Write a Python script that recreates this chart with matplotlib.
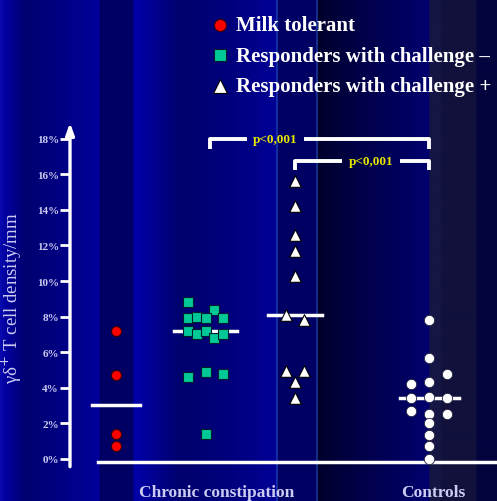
import numpy as np
import matplotlib.pyplot as plt

# percentage of gamma-delta T cells per group
milk_tolerant = [7.2, 4.7, 1.4, 0.73]
milk_dx = [0, 0, 0, 0]

challenge_neg = [8.8, 8.4, 7.9, 8.0, 7.9, 7.9, 7.2, 7.0, 7.2, 6.8, 7.0, 4.6, 4.9, 4.8, 1.4]
neg_dx = [-0.2, 0.1, -0.2, -0.1, 0.0, 0.2, -0.2, -0.1, 0.0, 0.1, 0.2, -0.2, 0.0, 0.2, 0.0]

challenge_pos = [15.6, 14.2, 12.6, 11.7, 10.3, 8.1, 7.8, 4.95, 4.95, 4.3, 3.45]
pos_dx = [0, 0, 0, 0, 0, -0.1, 0.1, -0.1, 0.1, 0, 0]

controls = [7.8, 5.7, 4.8, 4.2, 4.3, 3.4, 3.5, 3.4, 2.7, 2.5, 2.55, 2.0, 1.35, 0.7, 0.0]
ctrl_dx = [0, 0, 0.2, -0.2, 0, -0.2, 0, 0.2, -0.2, 0, 0.2, 0, 0, 0, 0]

group_x = [0, 1, 2, 3.5]
yticks = [0, 2, 4, 6, 8, 10, 12, 14, 16, 18]
group_labels = ["Chronic constipation", "Controls"]
p_text = "p<0,001"

W, H = 497, 502
fig = plt.figure(figsize=(W / 100, H / 100), dpi=100)

# striped blue slide background
stops = [(0, (10, 10, 175)), (6, (0, 0, 160)), (25, (0, 0, 112)), (60, (0, 0, 130)),
         (99, (0, 0, 155)), (100, (0, 0, 100)), (133, (0, 0, 100)), (134, (0, 0, 170)),
         (150, (0, 0, 150)), (180, (0, 0, 110)), (230, (0, 0, 125)), (276, (0, 0, 150)),
         (277, (40, 90, 200)), (278, (0, 0, 100)), (316, (0, 0, 100)), (317, (40, 90, 200)),
         (318, (0, 0, 45)), (360, (0, 0, 72)), (429, (0, 0, 110)), (430, (22, 22, 68)),
         (441, (22, 22, 68)), (442, (17, 17, 60)), (476, (17, 17, 60)), (477, (3, 3, 62)),
         (497, (3, 3, 62))]
sx = np.array([s[0] for s in stops], float)
sc = np.array([s[1] for s in stops], float) / 255
px = np.arange(W) + 0.5
bg = np.stack([np.interp(px, sx, sc[:, k]) for k in range(3)], axis=-1)[None, :, :]
bax = fig.add_axes([0, 0, 1, 1])
bax.imshow(bg, aspect='auto', extent=[0, 1, 0, 1], interpolation='bilinear')
bax.set_axis_off()

ax = fig.add_axes([70 / W, (H - 467) / H, 427 / W, 345 / H])
ax.set_facecolor('none')
ax.set_xlim(-0.514, 4.257)
ax.set_ylim(-0.4, 19.0)
for s in ax.spines.values():
    s.set_visible(False)

lav = (0.80, 0.80, 0.95)
serif = 'Liberation Serif'

ax.set_yticks(yticks)
ax.set_yticklabels([f"{t}%" for t in yticks], fontsize=8, fontweight='bold',
                   family=serif, color=lav)
ax.tick_params(axis='y', direction='out', length=7, width=2, color='white', pad=1)
ax.set_xticks([1.12, 3.55])
ax.set_xticklabels(group_labels, fontsize=12.5, fontweight='bold', family=serif, color=lav)
ax.tick_params(axis='x', length=0, pad=13)
ax.set_ylabel("γδ$^{+}$ T cell density/mm", fontsize=13.5, family=serif, color=lav)
ax.yaxis.set_label_coords(-0.108, 0.49)

# y axis with arrowhead
ax.annotate('', xy=(0, 0.995), xytext=(0, -0.002), xycoords='axes fraction',
            arrowprops=dict(arrowstyle='-|>,head_length=0.7,head_width=0.25',
                            color='white', lw=2.4, shrinkA=0, shrinkB=0))
# baseline
ax.plot([-0.2, 4.4], [-0.15, -0.15], color='white', lw=2.5, clip_on=False)

h1 = ax.scatter(np.add(group_x[0], milk_dx), milk_tolerant, s=52, marker='o',
                c='#ff0000', edgecolors='#400000', linewidths=0.8, zorder=4,
                label="Milk tolerant")
h2 = ax.scatter(np.add(group_x[1], neg_dx), challenge_neg, s=55, marker='s',
                c='#00c896', edgecolors='#002030', linewidths=0.8, zorder=4,
                label="Responders with challenge –")
h3 = ax.scatter(np.add(group_x[2], pos_dx), challenge_pos, s=70, marker='^',
                c='white', edgecolors='black', linewidths=0.8, zorder=4,
                label="Responders with challenge +")
ax.scatter(np.add(group_x[3], ctrl_dx), controls, s=55, marker='o',
           c='white', edgecolors='#202040', linewidths=0.6, zorder=4)

# median bars
halfw = [0.27, 0.35, 0.3, 0.33]
for gx, vals, hw in zip(group_x, [milk_tolerant, challenge_neg, challenge_pos, controls], halfw):
    m = np.median(vals)
    ax.plot([gx - hw, gx + hw], [m, m], color='white', lw=2.5, zorder=3)

# significance brackets
def bracket(x0, x1, y, drop, xt, gap):
    kw = dict(color='white', lw=2.8, clip_on=False, solid_capstyle='butt')
    ax.plot([x0, x0, xt - gap], [y - drop, y, y], **kw)
    ax.plot([xt + gap, x1, x1], [y, y, y - drop], **kw)
    ax.text(xt, y, p_text, ha='center', va='center', color='#e6e600',
            fontsize=9.5, fontweight='bold', family=serif)

bracket(1.05, 3.5, 18.0, 0.55, 1.78, 0.32)
bracket(2.0, 3.5, 16.75, 0.5, 2.85, 0.32)

leg = ax.legend(handles=[h1, h2, h3], loc='upper left', bbox_to_anchor=(199 / W, 1 - 6 / H),
                bbox_transform=fig.transFigure, frameon=False, handletextpad=0.3,
                labelspacing=0.5, borderpad=0, handlelength=1.0, markerscale=1.2,
                prop=dict(family=serif, weight='bold', size=15))
for t in leg.get_texts():
    t.set_color('white')

fig.savefig('out.png', dpi=100)
